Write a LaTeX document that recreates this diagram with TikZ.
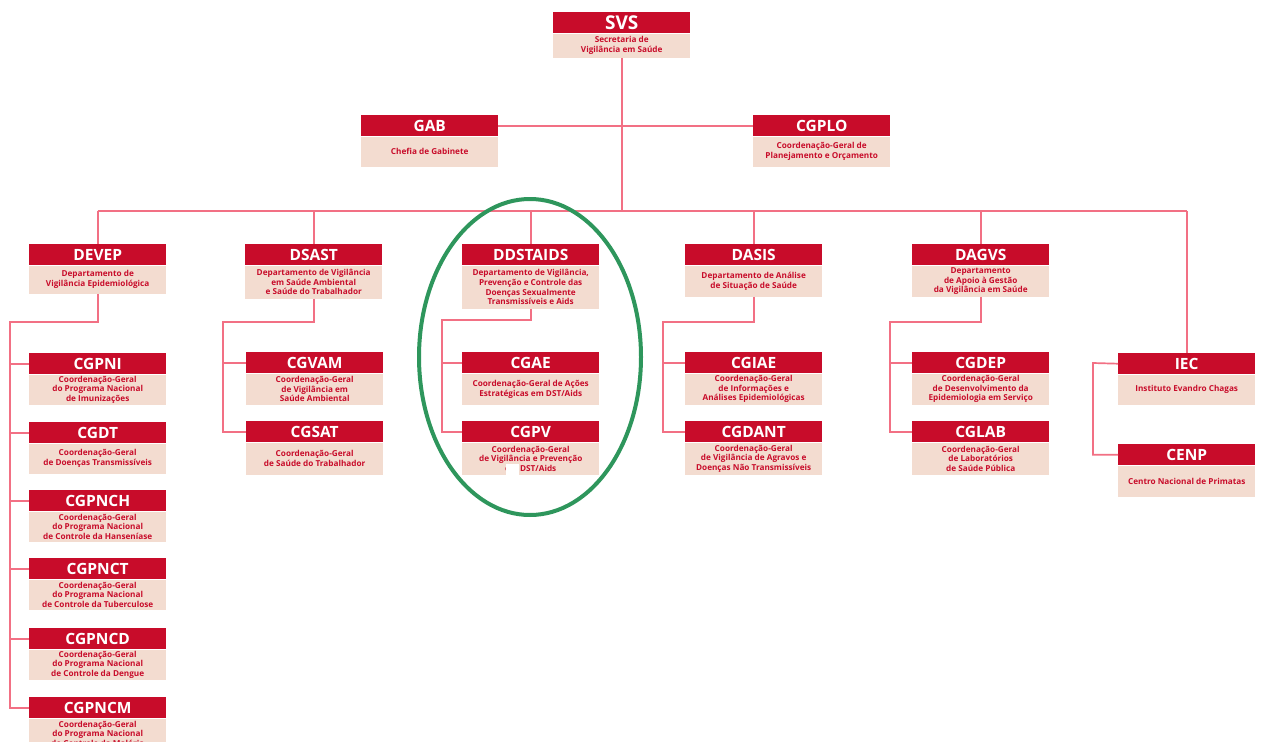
\documentclass[tikz,border=0pt]{standalone}
\usepackage{fontspec}
\setmainfont{Open Sans}
\definecolor{hred}{RGB}{200,12,42}
\definecolor{bpink}{RGB}{243,220,208}
\definecolor{lred}{RGB}{242,112,132}
\definecolor{ovgreen}{RGB}{46,150,92}
\tikzset{
  hdr/.style={fill=hred, text=white, font=\fontsize{15.5}{15.5}\selectfont\bfseries, inner sep=0pt, minimum height=21pt, anchor=north west},
  bdy/.style={fill=bpink, text=hred, font=\fontsize{8.2}{9.6}\selectfont\bfseries, inner sep=0pt, align=center, anchor=north},
  conn/.style={draw=lred, line width=1.7pt},
  oval/.style={draw=ovgreen, line width=4pt}
}
\newcommand\orgbox[7]{%
  \node[hdr, minimum width=#4pt] (#1) at (#2,#3) {#5};
  \node[bdy, minimum width=#4pt, minimum height=#7pt] (#1b) at (#1.south) {#6};
}
\begin{document}
\begin{tikzpicture}[x=1pt,y=-1pt]
\useasboundingbox (0,0) rectangle (1262,742);
\clip (0,0) rectangle (1262,742);
\fill[white] (0,0) rectangle (1262,742);
% top
\orgbox{svs}{553}{12}{137}{\fontsize{19}{19}\selectfont SVS}{Secretaria de\\Vigilância em Saúde}{24}
\orgbox{gab}{361}{115}{137}{GAB}{Chefia de Gabinete}{30}
\orgbox{cgplo}{753}{115}{137}{CGPLO}{Coordenação-Geral de\\Planejamento e Orçamento}{30}
% departments
\orgbox{devep}{29}{244}{137}{DEVEP}{Departamento de\\Vigilância Epidemiológica}{28}
\orgbox{dsast}{245}{244}{137}{DSAST}{Departamento de Vigilância\\em Saúde Ambiental\\e Saúde do Trabalhador}{33}
\orgbox{ddst}{462}{244}{137}{DDSTAIDS}{Departamento de Vigilância,\\Prevenção e Controle das\\Doenças Sexualmente\\Transmissíveis e Aids}{43}
\orgbox{dasis}{685}{244}{137}{DASIS}{Departamento de Análise\\de Situação de Saúde}{31}
\orgbox{dagvs}{912}{244}{137}{DAGVS}{Departamento\\de Apoio à Gestão\\da Vigilância em Saúde}{31}
% DEVEP column
\orgbox{cgpni}{29}{353}{137}{CGPNI}{Coordenação-Geral\\do Programa Nacional\\de Imunizações}{30}
\orgbox{cgdt}{29}{422}{137}{CGDT}{Coordenação-Geral\\de Doenças Transmissíveis}{30}
\orgbox{cgpnch}{29}{490}{137}{CGPNCH}{Coordenação-Geral\\do Programa Nacional\\de Controle da Hanseníase}{30}
\orgbox{cgpnct}{29}{558}{137}{CGPNCT}{Coordenação-Geral\\do Programa Nacional\\de Controle da Tuberculose}{30}
\orgbox{cgpncd}{29}{628}{137}{CGPNCD}{Coordenação-Geral\\do Programa Nacional\\de Controle da Dengue}{30}
\orgbox{cgpncm}{29}{697}{137}{CGPNCM}{Coordenação-Geral\\do Programa Nacional\\de Controle da Malária}{30}
% DSAST column
\orgbox{cgvam}{246}{352}{137}{CGVAM}{Coordenação-Geral\\de Vigilância em\\Saúde Ambiental}{31}
\orgbox{cgsat}{246}{421}{137}{CGSAT}{Coordenação-Geral\\de Saúde do Trabalhador}{32}
% DDSTAIDS column
\orgbox{cgae}{462}{352}{137}{CGAE}{Coordenação-Geral de Ações\\Estratégicas em DST/Aids}{31}
\orgbox{cgpv}{462}{421}{137}{CGPV}{Coordenação-Geral\\de Vigilância e Prevenção\\em DST/Aids}{32}
% DASIS column
\orgbox{cgiae}{685}{352}{137}{CGIAE}{Coordenação-Geral\\de Informações e\\Análises Epidemiológicas}{31}
\orgbox{cgdant}{685}{421}{137}{CGDANT}{Coordenação-Geral\\de Vigilância de Agravos e\\Doenças Não Transmissíveis}{32}
% DAGVS column
\orgbox{cgdep}{912}{352}{137}{CGDEP}{Coordenação-Geral\\de Desenvolvimento da\\Epidemiologia em Serviço}{31}
\orgbox{cglab}{912}{421}{137}{CGLAB}{Coordenação-Geral\\de Laboratórios\\de Saúde Pública}{32}
% IEC
\orgbox{iec}{1118}{353}{137}{IEC}{Instituto Evandro Chagas}{30}
\orgbox{cenp}{1118}{444}{137}{CENP}{Centro Nacional de Primatas}{31}
% white patch over CGPV text
\fill[white] (506,464) rectangle (519,478);
% connectors
\coordinate (bus) at (622,211);
\draw[conn] (svsb.south) -- (svsb.south |- bus);
\draw[conn] (gab.east) -- (cgplo.west);
\draw[conn] (devep.north |- bus) -- (iec.north |- bus);
\foreach \n in {devep,dsast,ddst,dasis,dagvs,iec}{
  \draw[conn] (\n.north |- bus) -- (\n.north);
}
% DEVEP branch
\coordinate (lv) at (10,322);
\draw[conn] (devepb.south) |- (lv) -- (lv |- cgpncm.west) -- (cgpncm.west);
\foreach \n in {cgpni,cgdt,cgpnch,cgpnct,cgpncd}{\draw[conn] (lv |- \n.west) -- (\n.west);}
% DSAST branch
\coordinate (sv) at (223,322);
\draw[conn] (dsastb.south) |- (sv) -- (sv |- cgsat.west) -- (cgsat.west);
\draw[conn] (sv |- cgvam.west) -- (cgvam.west);
% DDSTAIDS branch
\coordinate (dv) at (442,320);
\draw[conn] (ddstb.south) |- (dv) -- (dv |- cgpv.west) -- (cgpv.west);
\draw[conn] (dv |- cgae.west) -- (cgae.west);
% DASIS branch
\coordinate (av) at (663,322);
\draw[conn] (dasisb.south) |- (av) -- (av |- cgdant.west) -- (cgdant.west);
\draw[conn] (av |- cgiae.west) -- (cgiae.west);
% DAGVS branch
\coordinate (gv) at (890,322);
\draw[conn] (dagvsb.south) |- (gv) -- (gv |- cglab.west) -- (cglab.west);
\draw[conn] (gv |- cgdep.west) -- (cgdep.west);
% IEC branch
\coordinate (iv) at (1093,363);
\draw[conn] (iec.west) -- (iv) -- (iv |- cenp.west) -- (cenp.west);
% green oval
\draw[oval] (530,357) ellipse [x radius=111pt, y radius=158pt];
\end{tikzpicture}
\end{document}
